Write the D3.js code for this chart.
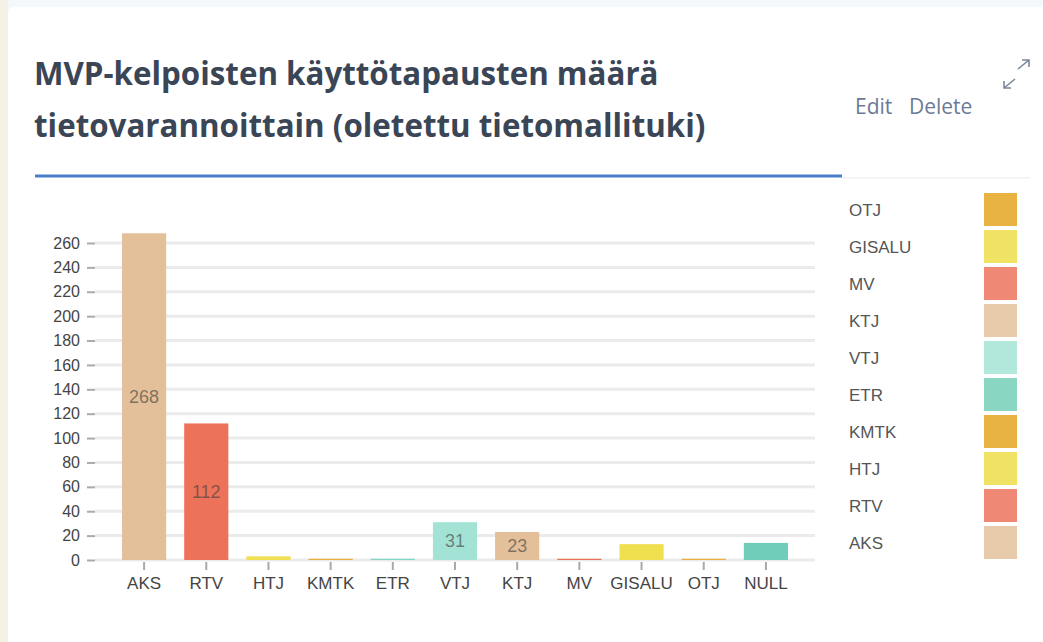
<!DOCTYPE html>
<meta charset="utf-8">
<style>
body { margin: 0; background: #f5f1e4; font-family: "Liberation Sans", Arial, sans-serif; }
#page { position: absolute; left: 8px; top: 0; width: 1035px; height: 642px; background: #f5f8fb; }
#card { position: absolute; left: 0; top: 7px; width: 1035px; height: 635px; background: #fff; border-radius: 6px 0 0 0; }
svg { position: absolute; left: 0; top: 0; }
</style>
<div id="page"><div id="card"></div></div>
<svg width="1043" height="642"></svg>
<script src="https://cdnjs.cloudflare.com/ajax/libs/d3/7.8.5/d3.min.js"></script>
<script>

var categories = ["AKS", "RTV", "HTJ", "KMTK", "ETR", "VTJ", "KTJ", "MV", "GISALU", "OTJ", "NULL"];
var values = [268, 112, 3, 1, 1, 31, 23, 1, 13, 1, 14];
var barColors = ["#e3c09a", "#ec7259", "#f0e04f", "#e8ad3c", "#7fd6c2", "#a3e3d5", "#e3c09a", "#ec7259", "#f0e04f", "#e8ad3c", "#6fcdb9"];
var shownLabels = ["268", "112", "", "", "", "31", "23", "", "", "", ""];
var legendItems = ["OTJ", "GISALU", "MV", "KTJ", "VTJ", "ETR", "KMTK", "HTJ", "RTV", "AKS"];
var legendColors = ["#e8b342", "#f0e264", "#ef8874", "#e8cbaa", "#b2e8db", "#89d6c3", "#e8b342", "#f0e264", "#ef8874", "#e8cbaa"];
var yTicks = d3.range(0, 261, 20);

var svg = d3.select("svg");

// header
var title = svg.append("text")
    .style("font-family", "'Open Sans', sans-serif")
    .style("font-weight", 700)
    .style("font-size", "31.3px")
    .style("fill", "#3a4556");
title.append("tspan").attr("x", 34).attr("y", 85).text("MVP-kelpoisten käyttötapausten määrä");
title.append("tspan").attr("x", 34).attr("y", 137).text("tietovarannoittain (oletettu tietomallituki)");

svg.append("rect").attr("x", 842).attr("y", 177).attr("width", 188).attr("height", 1.5).attr("fill", "#eef1f5");
svg.append("rect").attr("x", 35).attr("y", 174.5).attr("width", 807).attr("height", 3).attr("fill", "#4a7fc9");

var links = svg.append("g")
    .style("font-family", "'Open Sans', sans-serif").style("font-size", "21px").style("fill", "#6c7a98");
links.append("text").attr("x", 855).attr("y", 114).text("Edit");
links.append("text").attr("x", 909).attr("y", 114).text("Delete");

// expand icon
var ic = svg.append("g").attr("stroke", "#7a8699").attr("stroke-width", 1.6).attr("fill", "none");
ic.append("path").attr("d", "M1018,69 L1029,60 M1022,60 L1029,60 L1029,67");
ic.append("path").attr("d", "M1015,79 L1004,88 M1004,81 L1004,88 L1011,88");

// chart
var x = d3.scaleBand().domain(categories).range([113, 797]).paddingInner(0.29).paddingOuter(0.145);
var y = d3.scaleLinear().domain([0, 260]).range([560, 243]);

svg.append("g").selectAll("line").data(yTicks).join("line")
    .attr("x1", 95).attr("x2", 815)
    .attr("y1", d => y(d)).attr("y2", d => y(d))
    .attr("stroke", "#ebebeb").attr("stroke-width", 3);

var yAxis = svg.append("g").attr("transform", "translate(95,0)")
    .call(d3.axisLeft(y).tickValues(yTicks).tickSize(8).tickPadding(7));
yAxis.select(".domain").remove();
yAxis.selectAll(".tick line").attr("stroke", "#aaa").attr("stroke-width", 2);
yAxis.selectAll(".tick text").style("font-size", "16px").style("fill", "#444").style("font-family", "'Liberation Sans', Arial, sans-serif");

svg.append("g").selectAll("rect").data(categories).join("rect")
    .attr("x", d => x(d)).attr("width", x.bandwidth())
    .attr("y", (d, i) => y(values[i]))
    .attr("height", (d, i) => y(0) - y(values[i]))
    .attr("fill", (d, i) => barColors[i]);

var xAxis = svg.append("g").attr("transform", "translate(0,562)")
    .call(d3.axisBottom(x).tickSize(8).tickPadding(7));
xAxis.select(".domain").remove();
xAxis.selectAll(".tick line").attr("stroke", "#aaa").attr("stroke-width", 2);
xAxis.selectAll(".tick text").style("font-size", "17px").style("fill", "#444").style("font-family", "'Liberation Sans', Arial, sans-serif");

svg.append("g").selectAll("text").data(categories).join("text")
    .attr("x", d => x(d) + x.bandwidth() / 2)
    .attr("y", (d, i) => (y(values[i]) + y(0)) / 2)
    .attr("dy", "0.35em")
    .attr("text-anchor", "middle")
    .style("font-size", "18px")
    .style("fill", "rgba(60,60,60,0.6)")
    .text((d, i) => shownLabels[i]);

// legend
var lg = svg.append("g");
var ly = d3.scaleBand().domain(legendItems).range([192, 562]);
lg.selectAll("rect").data(legendItems).join("rect")
    .attr("x", 984).attr("y", d => ly(d) + 1).attr("width", 33).attr("height", 33)
    .attr("fill", (d, i) => legendColors[i]);
lg.selectAll("text").data(legendItems).join("text")
    .attr("x", 849).attr("y", d => ly(d) + ly.bandwidth() / 2)
    .attr("dy", "0.35em")
    .style("font-size", "17px").style("fill", "#555")
    .text(d => d);

</script>
